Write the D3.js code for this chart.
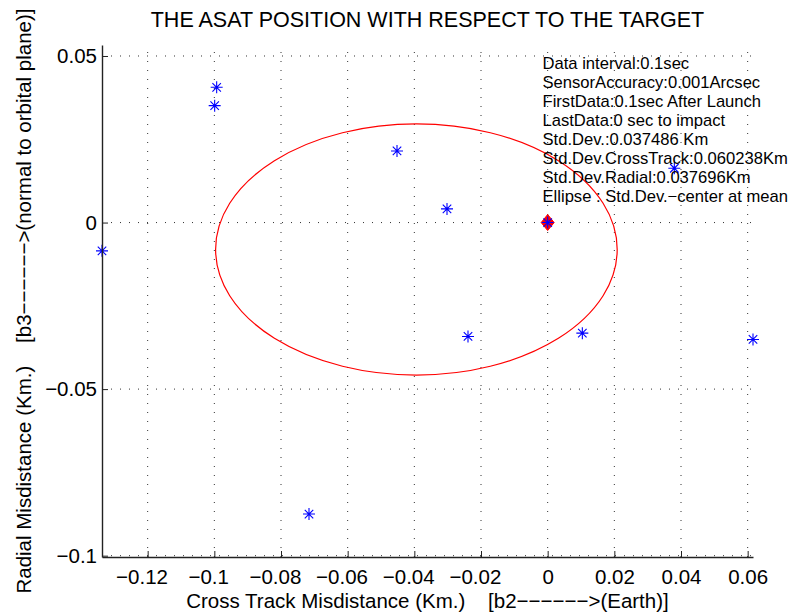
<!DOCTYPE html>
<html>
<head>
<meta charset="utf-8">
<script src="https://cdn.jsdelivr.net/npm/d3@7"></script>
<style>
  body { margin: 0; background: #fff; }
  text { font-family: "Liberation Sans", Arial, Helvetica, sans-serif; fill: #000; }
</style>
</head>
<body>
<script>
// ASAT miss positions (Km.), cross track (b2) and radial (b3)
var asatX = [-0.0993, -0.0999, -0.0452, -0.0302, 0.0380, -0.1337, -0.0239, 0.0104, 0.0616, -0.0716];
var asatY = [0.0406, 0.0351, 0.0215, 0.0041, 0.0163, -0.0085, -0.0342, -0.0332, -0.0351, -0.0875];

// target at the origin
var targetX = [0];
var targetY = [0];

var stdCross = 0.060238;
var stdRadial = 0.037696;

var xDomain = [-0.1337, 0.0616];
var yDomain = [-0.1004, 0.0533];
var xTicks = [-0.12, -0.1, -0.08, -0.06, -0.04, -0.02, 0, 0.02, 0.04, 0.06];
var yTicks = [-0.1, -0.05, 0, 0.05];

var titleText = "THE ASAT POSITION WITH RESPECT TO THE TARGET";
var xLabel = "Cross Track Misdistance (Km.)    [b2\u2212\u2212\u2212\u2212\u2212\u2212>(Earth)]";
var yLabel = "Radial Misdistance (Km.)    [b3\u2212\u2212\u2212\u2212\u2212\u2212>(normal to orbital plane)]";
var infoLines = [
  "Data interval:0.1sec",
  "SensorAccuracy:0.001Arcsec",
  "FirstData:0.1sec After Launch",
  "LastData:0 sec to impact",
  "Std.Dev.:0.037486 Km",
  "Std.Dev.CrossTrack:0.060238Km",
  "Std.Dev.Radial:0.037696Km",
  "Ellipse : Std.Dev.\u2212center at mean"
];

var width = 790,
    height = 615;
var plotL = 102, plotR = 753, plotT = 45, plotB = 557;

var svg = d3.select("body").append("svg")
    .attr("width", width)
    .attr("height", height);

var x = d3.scaleLinear().domain(xDomain).range([plotL, plotR]);
var y = d3.scaleLinear().domain(yDomain).range([plotB, plotT]);

var fmt = function(d) { return d3.format("~g")(d); };

// dotted grid
svg.append("g")
  .selectAll("line")
  .data(xTicks)
  .enter()
  .append("line")
  .attr("x1", function(d) { return x(d); })
  .attr("x2", function(d) { return x(d); })
  .attr("y1", plotB)
  .attr("y2", plotT)
  .attr("stroke", "#333")
  .attr("stroke-width", 1)
  .attr("stroke-dasharray", "1,8");

svg.append("g")
  .selectAll("line")
  .data(yTicks)
  .enter()
  .append("line")
  .attr("x1", plotL)
  .attr("x2", plotR)
  .attr("y1", function(d) { return y(d); })
  .attr("y2", function(d) { return y(d); })
  .attr("stroke", "#333")
  .attr("stroke-width", 1)
  .attr("stroke-dasharray", "1,8");

// 1 std.dev. ellipse centred on the mean
var mx = d3.mean(asatX), my = d3.mean(asatY);
svg.append("ellipse")
  .attr("cx", x(mx))
  .attr("cy", y(my))
  .attr("rx", x(mx + stdCross) - x(mx))
  .attr("ry", y(my) - y(my + stdRadial))
  .attr("fill", "none")
  .attr("stroke", "#ff0000")
  .attr("stroke-width", 1.2);

function starPath(r) {
  var a = r * Math.SQRT1_2;
  return "M" + (-r) + ",0H" + r + "M0," + (-r) + "V" + r +
         "M" + (-a) + "," + (-a) + "L" + a + "," + a +
         "M" + (-a) + "," + a + "L" + a + "," + (-a);
}

// target diamond
svg.append("g")
  .selectAll("path")
  .data(targetX)
  .enter()
  .append("path")
  .attr("transform", function(d, i) { return "translate(" + x(d) + "," + y(targetY[i]) + ")"; })
  .attr("d", "M0,-8L6.5,0L0,8L-6.5,0Z")
  .attr("fill", "#ff0000")
  .attr("stroke", "#ff0000");

// asat points + star on target
var allX = asatX.concat(targetX), allY = asatY.concat(targetY);
svg.append("g")
  .selectAll("path")
  .data(allX)
  .enter()
  .append("path")
  .attr("transform", function(d, i) { return "translate(" + x(d) + "," + y(allY[i]) + ")"; })
  .attr("d", starPath(6))
  .attr("fill", "none")
  .attr("stroke", "#0000ff")
  .attr("stroke-width", 1.1);

// axes (left and bottom only, ticks inward)
var gx = svg.append("g")
  .attr("transform", "translate(0," + plotB + ")")
  .call(d3.axisBottom(x).tickValues(xTicks).tickFormat(fmt)
        .tickSizeInner(-6).tickSizeOuter(0).tickPadding(12));
gx.selectAll("text")
  .attr("dx", function(d) { return d < 0 ? "-0.3em" : 0; });

var gy = svg.append("g")
  .attr("transform", "translate(" + plotL + ",0)")
  .call(d3.axisLeft(y).tickValues(yTicks).tickFormat(fmt)
        .tickSizeInner(-6).tickSizeOuter(0).tickPadding(5));

[gx, gy].forEach(function(g) {
  g.attr("font-family", null).attr("font-size", null);
  g.select(".domain").attr("stroke", "#222").attr("stroke-width", 1.4);
  g.selectAll(".tick line").attr("stroke", "#222").attr("stroke-width", 1);
  g.selectAll("text").style("font-size", "20.5px").attr("fill", "#000");
});

// title and axis labels
svg.append("text")
  .attr("x", (plotL + plotR) / 2)
  .attr("y", 27)
  .attr("text-anchor", "middle")
  .style("font-size", "21.5px")
  .text(titleText);

svg.append("text")
  .attr("x", (plotL + plotR) / 2)
  .attr("y", 607.5)
  .attr("text-anchor", "middle")
  .style("font-size", "20.5px")
  .style("white-space", "pre")
  .text(xLabel);

svg.append("text")
  .attr("transform", "translate(30.5," + (plotT + plotB) / 2 + ") rotate(-90)")
  .attr("text-anchor", "middle")
  .style("font-size", "20.5px")
  .style("white-space", "pre")
  .text(yLabel);

// info block
svg.append("g")
  .selectAll("text")
  .data(infoLines)
  .enter()
  .append("text")
  .attr("x", 542.5)
  .attr("y", function(d, i) { return 69.3 + i * 18.9; })
  .style("font-size", "16.6px")
  .text(function(d) { return d; });
</script>
</body>
</html>
